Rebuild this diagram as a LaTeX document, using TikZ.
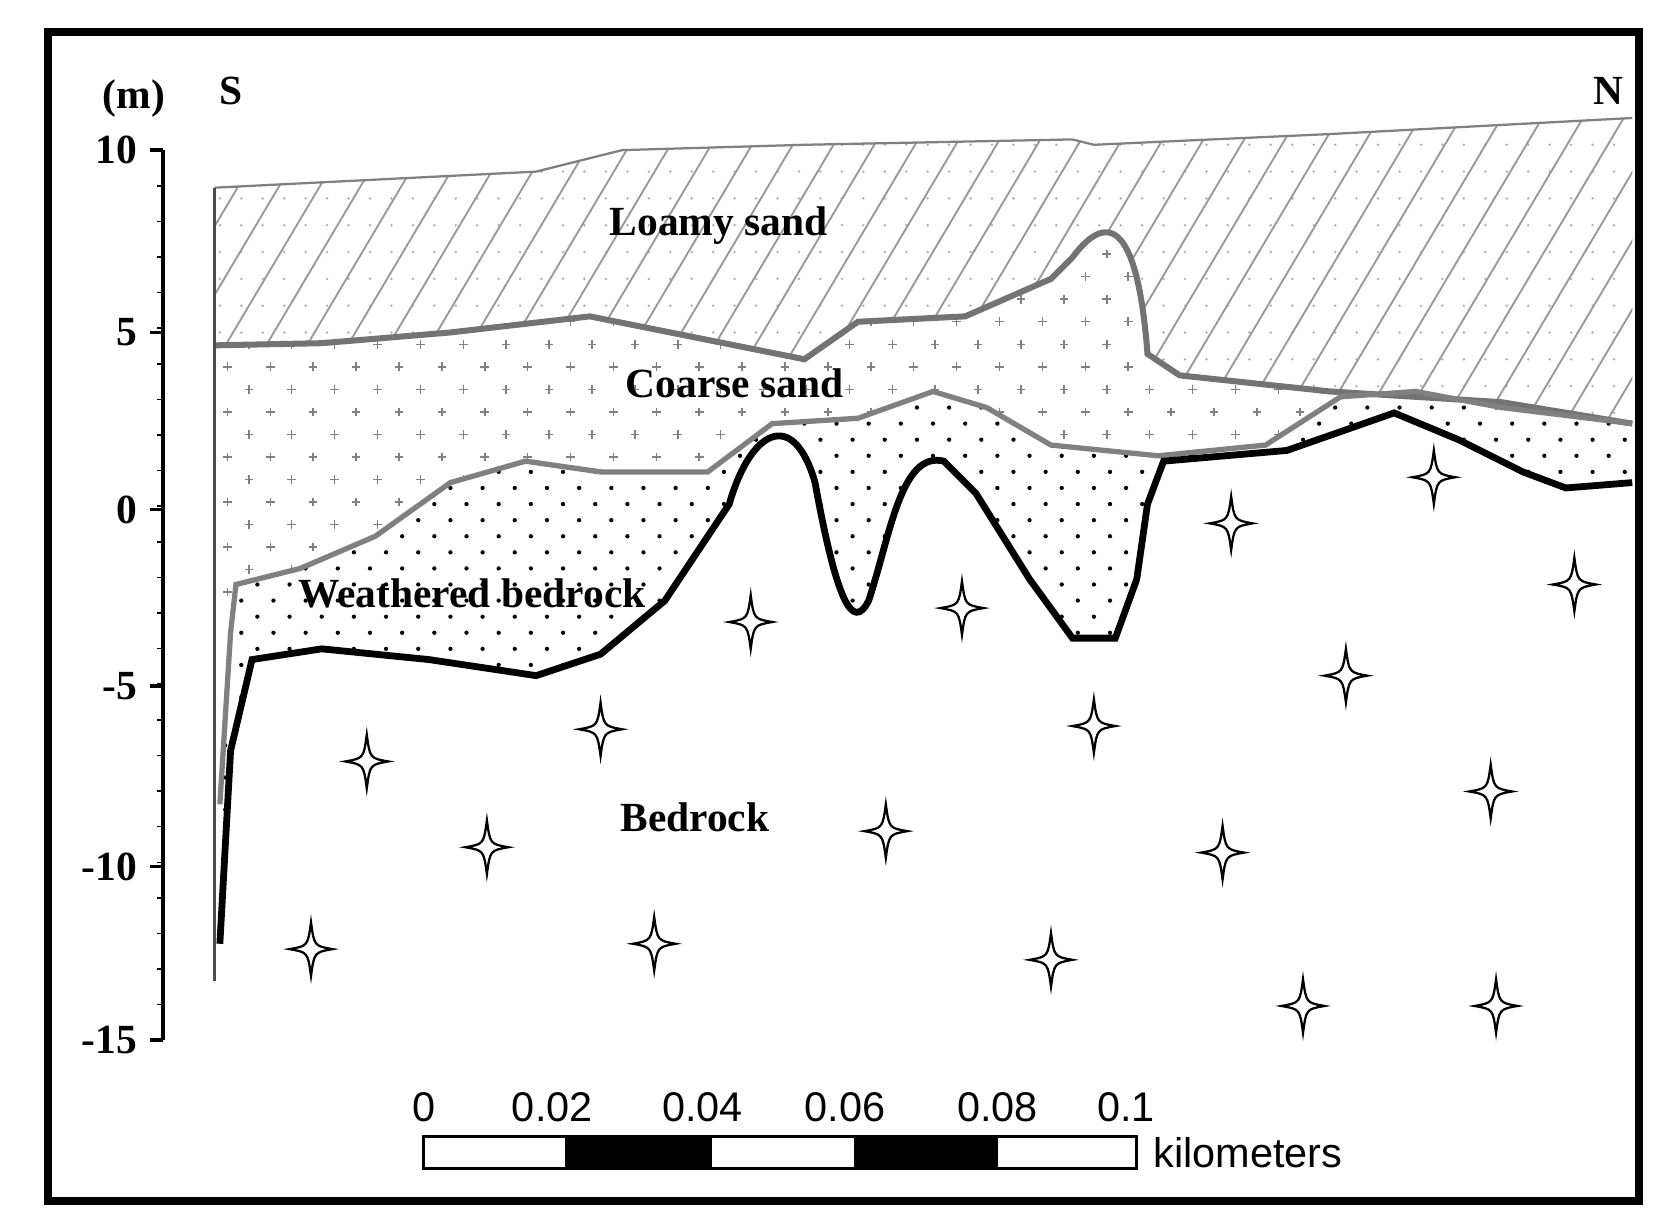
\documentclass[tikz,border=0pt]{standalone}
\usepackage{fontspec}
\setmainfont{Liberation Serif}
\newfontfamily\sfk{Liberation Sans}
\tikzset{lbl/.style={font=\fontsize{11}{13}\selectfont\bfseries},
 axl/.style={font=\fontsize{11}{13}\selectfont\bfseries, anchor=east},
 star/.style={draw=black, fill=white, line width=0.6pt}}
\def\topline{(200,175) -- (500,160) -- (580,140) -- (750,135) -- (1000,130) -- (1020,135) -- (1240,125) -- (1522,110)}
\def\loamyb{(1522,395) -- (1400,375) -- (1240,365) -- (1100,350) -- (1070,330) .. controls (1060,200) and (1030,200) .. (1000,240) -- (980,260) -- (900,295) -- (800,300) -- (750,335) -- (650,315) -- (550,295) -- (420,310) -- (300,320) -- (200,322)}
\def\coarseb{(205,750) -- (215,590) -- (220,545) -- (280,530) -- (350,500) -- (420,450) -- (490,430) -- (560,440) -- (660,440) -- (720,395) -- (800,390) -- (870,365) -- (920,380) -- (980,415) -- (1080,425) -- (1180,415) -- (1250,370) -- (1320,365) -- (1400,380) -- (1522,395)}
\def\bedt{(205,880) -- (215,700) -- (235,615) -- (300,605) -- (400,615) -- (500,630) -- (560,610) -- (620,560) -- (680,470) .. controls (700,400) and (740,380) .. (760,450) .. controls (780,560) and (795,590) .. (810,560) .. controls (830,500) and (840,420) .. (880,430) -- (910,460) -- (960,540) -- (1000,595) -- (1040,595) -- (1060,540) -- (1070,470) -- (1085,430) -- (1200,420) -- (1300,385) -- (1360,410) -- (1420,440) -- (1460,455) -- (1522,450)}
\begin{document}
\begin{tikzpicture}[x=0.1mm,y=-0.1mm]
\useasboundingbox (0,0) rectangle (1560,1144);
% loamy fill
\begin{scope}
\clip \topline -- \loamyb -- cycle;
\foreach \x in {205,225,...,1520} \foreach \y in {110,135,...,400} \fill[gray!60] (\x,\y) circle (1.3);
\foreach \x in {0,38,...,1560} \draw[gray!80, line width=0.5pt] (\x,420) -- (\x+190,100);
\end{scope}
% coarse fill
\begin{scope}
\clip (200,322) -- (300,320) -- (420,310) -- (550,295) -- (650,315) -- (750,335) -- (800,300) -- (900,295) -- (980,260) -- (1000,240) .. controls (1030,200) and (1060,200) .. (1070,330) -- (1100,350) -- (1240,365) -- (1400,375) -- (1522,395) -- (1400,380) -- (1320,365) -- (1250,370) -- (1180,415) -- (1080,425) -- (980,415) -- (920,380) -- (870,365) -- (800,390) -- (720,395) -- (660,440) -- (560,440) -- (490,430) -- (420,450) -- (350,500) -- (280,530) -- (220,545) -- (215,590) -- (200,590) -- cycle;
\foreach \x in {212,252,...,1520} \foreach \y in {216,258,...,600} \draw[gray, line width=0.4pt] (\x-4,\y) -- (\x+4,\y) (\x,\y-4) -- (\x,\y+4);
\foreach \x in {232,272,...,1520} \foreach \y in {237,279,...,600} \draw[gray, line width=0.4pt] (\x-4,\y) -- (\x+4,\y) (\x,\y-4) -- (\x,\y+4);
\end{scope}
% weathered fill
\begin{scope}
\clip \coarseb -- (1522,450) -- (1460,455) -- (1420,440) -- (1360,410) -- (1300,385) -- (1200,420) -- (1085,430) -- (1070,470) -- (1060,540) -- (1040,595) -- (1000,595) -- (960,540) -- (910,460) -- (880,430) .. controls (840,420) and (830,500) .. (810,560) .. controls (795,590) and (780,560) .. (760,450) .. controls (740,380) and (700,400) .. (680,470) -- (620,560) -- (560,610) -- (500,630) -- (400,615) -- (300,605) -- (235,615) -- (215,700) -- (205,880) -- cycle;
\foreach \x in {210,240,...,1520} \foreach \y in {365,395,...,900} \fill (\x,\y) circle (2);
\foreach \x in {225,255,...,1520} \foreach \y in {380,410,...,900} \fill (\x,\y) circle (2);
\end{scope}
% boundaries
\draw[gray, line width=0.6pt] \topline;
\draw[gray!90!black, line width=1.6pt] \loamyb;
\draw[gray, line width=1.4pt] \coarseb;
\draw[black, line width=1.8pt] \bedt;
\draw[gray!60!black, line width=0.8pt] (200,175) -- (200,915);
% stars
\foreach \x/\y in {700/580,897/567,1148/488,1337/445,1468/545,560/680,342/710,1020/677,1255/630,454/790,826/775,1390/738,1140/795,290/885,610/880,980/895,1215/938,1395/938}
 \draw[star] (\x,\y-25) .. controls (\x+3,\y-3) .. (\x+20,\y) .. controls (\x+3,\y+3) .. (\x,\y+25) .. controls (\x-3,\y+3) .. (\x-20,\y) .. controls (\x-3,\y-3) .. cycle;
% axis
\draw[line width=1pt] (152,140) -- (152,970);
\foreach \i in {0,...,25} \draw (152,140+33.2*\i) -- (146,140+33.2*\i);
\foreach \v/\y in {10/140,5/310,0/475,-5/640,-10/808,-15/970} { \draw[line width=1pt] (152,\y) -- (140,\y); \node[axl] at (140,\y) {\v}; }
\node[lbl] at (125,92) {(m)};
\node[lbl] at (215,85) {S};
\node[lbl] at (1500,85) {N};
% labels
\node[lbl] at (670,210) {Loamy sand};
\node[lbl] at (685,357) {Coarse sand};
\node[lbl] at (440,553) {Weathered bedrock};
\node[lbl] at (648,762) {Bedrock};
% scale bar
\draw[line width=0.8pt] (395,1060) rectangle (1060,1090);
\fill (528,1060) rectangle (663,1090);
\fill (797,1060) rectangle (930,1090);
\foreach \x in {528,663,797,930} \draw (\x,1060) -- (\x,1090);
\foreach \t/\x in {0/395,0.02/515,0.04/655,0.06/788,0.08/930,0.1/1050}
 \node[font=\sfk\fontsize{11}{13}\selectfont] at (\x,1032) {\t};
\node[font=\sfk\fontsize{11}{13}\selectfont, anchor=west] at (1063,1075) {kilometers};
% frame
\draw[line width=2.2pt] (45,30) rectangle (1528,1120);
\end{tikzpicture}
\end{document}
